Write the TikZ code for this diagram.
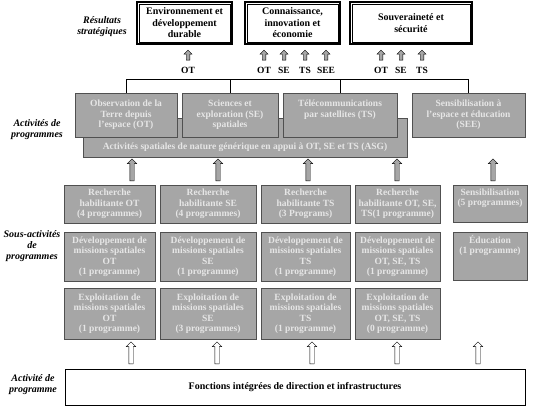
\documentclass[tikz,border=0pt]{standalone}
\usepackage{fontspec}
\setmainfont{Liberation Serif}
\usetikzlibrary{shapes.arrows,positioning}
\definecolor{boxgray}{RGB}{166,166,166}
\definecolor{boxtext}{RGB}{230,230,230}
\definecolor{boxline}{RGB}{80,80,80}
\tikzset{
  res/.style={draw,line width=1.8pt,align=center,font=\fontsize{10}{11.5}\selectfont\bfseries,inner sep=0pt},
  act/.style={draw=boxline,fill=boxgray,text=boxtext,align=center,font=\fontsize{9.5}{10.5}\selectfont\bfseries,inner sep=0pt},
  lbl/.style={align=center,font=\fontsize{10}{11}\selectfont\bfseries\itshape},
  tag/.style={font=\fontsize{9.5}{11}\selectfont\bfseries,inner sep=0pt},
  upsm/.style={single arrow,shape border rotate=90,draw,fill=boxgray,minimum height=10pt,minimum width=8pt,inner sep=1.6pt,single arrow head extend=2.2pt},
  upg/.style={single arrow,shape border rotate=90,draw,fill=boxgray,minimum height=22pt,minimum width=9pt,inner sep=2pt,single arrow head extend=2.5pt},
  upw/.style={single arrow,shape border rotate=90,draw,fill=white,minimum height=22pt,minimum width=9pt,inner sep=2pt,single arrow head extend=2.5pt},
}
\begin{document}
\begin{tikzpicture}[x=1pt,y=-1pt]
\useasboundingbox (0,0) rectangle (537,407);
% resultats strategiques
\node[lbl] (lres) at (102,27) {Résultats\\stratégiques};
\node[res,minimum width=95pt,minimum height=42pt] (env) at (184.5,23) {Environnement et\\développement\\durable};
\node[res,minimum width=95pt,minimum height=42pt] (con) at (292.5,23) {Connaissance,\\innovation et\\économie};
\node[res,minimum width=122pt,minimum height=42pt] (sou) at (411,23) {Souveraineté et\\sécurité};
\foreach \n in {env,con,sou}
  \draw[line width=0.6pt] ([xshift=3pt,yshift=-3pt]\n.north west) rectangle ([xshift=-3pt,yshift=3pt]\n.south east);
\foreach \x/\t in {188/OT,264/OT,284/SE,305/TS,326/SEE,381/OT,401/SE,422/TS}{
  \node[upsm] (s\x) at (\x,56) {};
  \node[tag] (t\x) at (\x,70) {\t};
}
% activites de programmes
\node[lbl] (lact) at (37,130) {Activités de\\programmes};
\node[act,minimum width=324pt,minimum height=39pt,text height=27pt] (asg) at (245,137.5) {Activités spatiales de nature générique en appui à OT, SE et TS (ASG)};
\node[act,minimum width=102pt,minimum height=44pt] (ot) at (126,115) {Observation de la\\Terre depuis\\l'espace (OT)};
\node[act,minimum width=96pt,minimum height=44pt] (se) at (230,115) {Sciences et\\exploration (SE)\\spatiales};
\node[act,minimum width=114pt,minimum height=44pt,text depth=13pt] (ts) at (340,115) {Télécommunications\\par satellites (TS)};
\node[act,minimum width=113pt,minimum height=44pt] (see) at (468.5,115) {Sensibilisation à\\l'espace et éducation\\(SEE)};
\coordinate (bus) at (0,79);
\draw (ot.north) |- (see.north |- bus) -- (see.north);
\draw (se.north) -- (se.north |- bus);
\draw (ts.north) -- (ts.north |- bus);
\foreach \x in {132,218,308,397,493}
  \node[upg] (g\x) at (\x,171) {};
% sous-activites
\node[act,minimum width=91pt,minimum height=38pt] (r1c1) at (109.5,204) {Recherche\\habilitante OT\\(4 programmes)};
\node[act,minimum width=96pt,minimum height=38pt] (r1c2) at (208,204) {Recherche\\habilitante SE\\(4 programmes)};
\node[act,minimum width=89pt,minimum height=38pt] (r1c3) at (305.5,204) {Recherche\\habilitante TS\\(3 Programs)};
\node[act,minimum width=85pt,minimum height=38pt] (r1c4) at (397.5,204) {Recherche\\habilitante OT, SE,\\TS(1 programme)};
\node[act,minimum width=74pt,minimum height=37pt,text depth=13pt] (r1c5) at (490,203.5) {Sensibilisation\\(5 programmes)};
\node[act,minimum width=91pt,minimum height=49pt] (r2c1) at (109.5,256.5) {Développement de\\missions spatiales\\OT\\(1 programme)};
\node[act,minimum width=96pt,minimum height=49pt] (r2c2) at (208,256.5) {Développement de\\missions spatiales\\SE\\(1 programme)};
\node[act,minimum width=89pt,minimum height=49pt] (r2c3) at (305.5,256.5) {Développement de\\missions spatiales\\TS\\(1 programme)};
\node[act,minimum width=85pt,minimum height=49pt] (r2c4) at (397.5,256.5) {Développement de\\missions spatiales\\OT, SE, TS\\(1 programme)};
\node[act,minimum width=74pt,minimum height=48pt,text depth=23pt] (r2c5) at (490,256) {Éducation\\(1 programme)};
\node[act,minimum width=91pt,minimum height=51pt] (r3c1) at (109.5,313.5) {Exploitation de\\missions spatiales\\OT\\(1 programme)};
\node[act,minimum width=96pt,minimum height=51pt] (r3c2) at (208,313.5) {Exploitation de\\missions spatiales\\SE\\(3 programmes)};
\node[act,minimum width=89pt,minimum height=51pt] (r3c3) at (305.5,313.5) {Exploitation de\\missions spatiales\\TS\\(1 programme)};
\node[act,minimum width=85pt,minimum height=51pt] (r3c4) at (397.5,313.5) {Exploitation de\\missions spatiales\\OT, SE, TS\\(0 programme)};
\node[lbl,inner sep=0pt] (lsub) at (32,246) {Sous-activités\\de\\programmes};
\foreach \x in {131,217,312,397,478}
  \node[upw] (w\x) at (\x,354) {};
% activite de programme
\node[lbl] (lpro) at (33,385) {Activité de\\programme};
\node[draw,minimum width=460pt,minimum height=36pt,font=\fontsize{10}{11}\selectfont\bfseries] (fon) at (295,387) {Fonctions intégrées de direction et infrastructures};
\end{tikzpicture}
\end{document}
